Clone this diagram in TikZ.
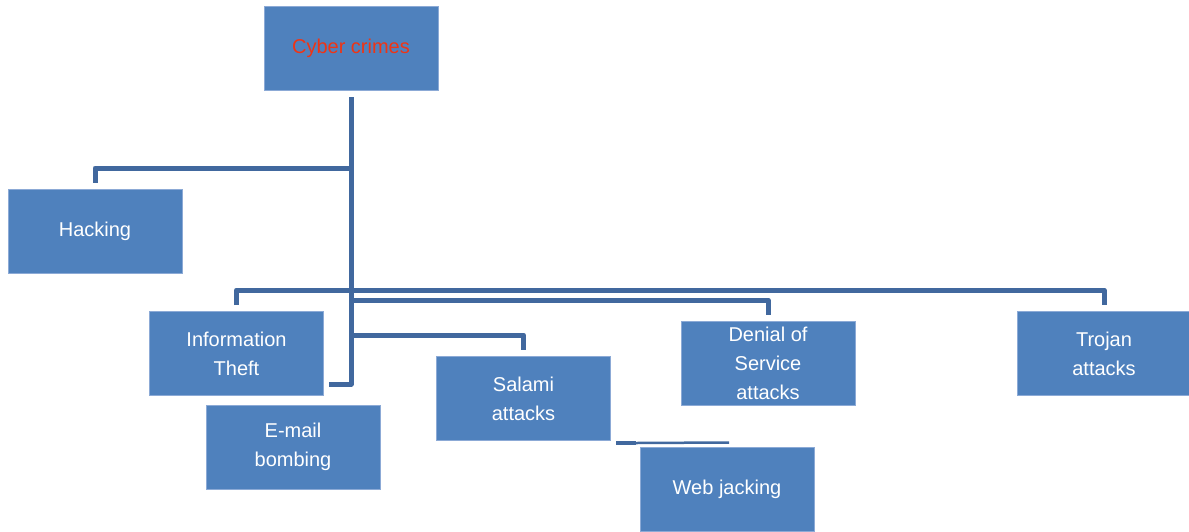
\documentclass[tikz,border=0pt]{standalone}
\usepackage{fontspec}
\setmainfont{Liberation Sans}
\definecolor{boxfill}{RGB}{79,129,189}
\definecolor{boxedge}{RGB}{140,170,214}
\definecolor{linkblue}{RGB}{65,104,158}
\definecolor{titlered}{RGB}{240,52,20}
\begin{document}
\begin{tikzpicture}[x=1pt,y=-1pt,
  crimebox/.style={rectangle, fill=boxfill, draw=boxedge, line width=0.8pt,
    minimum width=174pt, minimum height=84pt, inner sep=0pt,
    align=center, text=white, font=\fontsize{20}{29}\selectfont},
  conn/.style={draw=linkblue, line width=5pt, line join=round, line cap=butt}]
  \useasboundingbox (0,0) rectangle (1189,531);

  % category boxes
  \node[crimebox, text=titlered] (cyber)  at (351,48)    {Cyber crimes};
  \node[crimebox] (hack)   at (95,231)    {Hacking};
  \node[crimebox] (info)   at (236.5,353.5) {Information\\Theft};
  \node[crimebox] (email)  at (293,447)   {E-mail\\bombing};
  \node[crimebox] (salami) at (523.5,398.5) {Salami\\attacks};
  \node[crimebox] (dos)    at (768,363.5) {Denial of\\Service\\attacks};
  \node[crimebox] (trojan) at (1104,353.5) {Trojan\\attacks};
  \node[crimebox] (web)    at (727,489)   {Web jacking};

  % junction points on the main trunk
  \coordinate (j-hack)   at (351,168);
  \coordinate (j-top)    at (351,290);
  \coordinate (j-dos)    at (351,300);
  \coordinate (j-salami) at (351,335);
  \coordinate (trunk-end) at (329,384);
  \coordinate (wj-a) at (616,443);
  \coordinate (wj-b) at (636,443);
  \coordinate (wj-c) at (729,442.5);

  % trunk
  \draw[conn] ([yshift=-7pt]cyber.south) |- (trunk-end);
  % branches
  \draw[conn] (j-hack) -| ([yshift=6pt]hack.north);
  \draw[conn] ([yshift=6pt]info.north) |- (j-top) -| ([yshift=6pt]trojan.north);
  \draw[conn] (j-dos) -| ([yshift=6pt]dos.north);
  \draw[conn] (j-salami) -| ([yshift=6pt]salami.north);
  % short link above Web jacking
  \draw[draw=linkblue, line width=4pt] (wj-a) -- (wj-b);
  \draw[draw=linkblue, line width=2.5pt] (wj-b) -- (wj-c);
\end{tikzpicture}
\end{document}
